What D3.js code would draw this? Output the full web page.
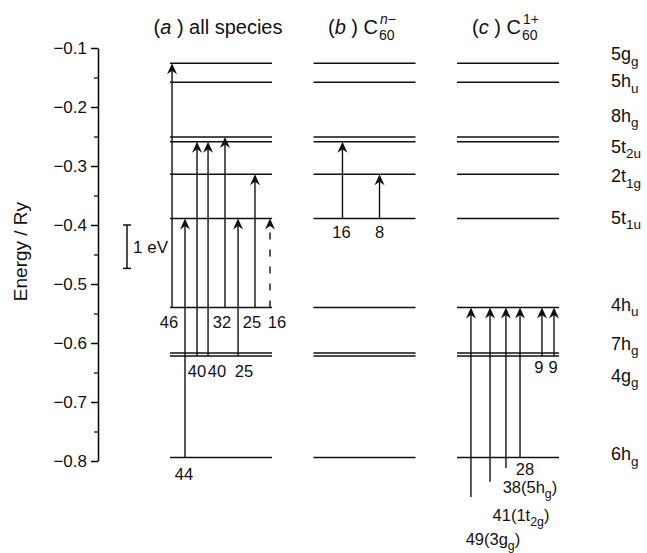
<!DOCTYPE html>
<html>
<head>
<meta charset="utf-8">
<script src="https://cdn.jsdelivr.net/npm/d3@7"></script>
<style>
  body { margin: 0; background: #fff; }
  svg text { font-family: "Liberation Sans", Arial, sans-serif; fill: #111; }
</style>
</head>
<body>
<div id="chart"></div>
<script>
// Energy levels (Ry), top to bottom; "_{..}" marks a subscript
const levelNames = ["5g_{g}", "5h_{u}", "8h_{g}", "5t_{2u}", "2t_{1g}", "5t_{1u}", "4h_{u}", "7h_{g}", "4g_{g}", "6h_{g}"];
const levelEnergies = [-0.126, -0.158, -0.251, -0.259, -0.314, -0.389, -0.540, -0.617, -0.622, -0.794];

// deeper levels, only used as starting points of arrows in (c)
const deepNames = ["3g_{g}", "1t_{2g}", "5h_{g}"];
const deepEnergies = [-0.861, -0.835, -0.812];

const panelIds = ["a", "b", "c"];
const yTicks = [-0.1, -0.2, -0.3, -0.4, -0.5, -0.6, -0.7, -0.8];
const yMinorTicks = [-0.15, -0.25, -0.35, -0.45, -0.55, -0.65, -0.75];
const eVinRy = 0.0735;

// Transitions (arrows)
const transPanel = ["a", "a", "a", "a", "a", "a", "a", "a", "b", "b", "c", "c", "c", "c", "c", "c"];
const transFrom  = ["4h_{u}", "6h_{g}", "4g_{g}", "4g_{g}", "4h_{u}", "4g_{g}", "4h_{u}", "4h_{u}",
                    "5t_{1u}", "5t_{1u}",
                    "3g_{g}", "1t_{2g}", "5h_{g}", "6h_{g}", "4g_{g}", "4g_{g}"];
const transTo    = ["5g_{g}", "5t_{1u}", "5t_{2u}", "5t_{2u}", "8h_{g}", "5t_{1u}", "2t_{1g}", "5t_{1u}",
                    "5t_{2u}", "2t_{1g}",
                    "4h_{u}", "4h_{u}", "4h_{u}", "4h_{u}", "4h_{u}", "4h_{u}"];
const transLabel = ["46", "44", "40", "40", "32", "25", "25", "16",
                    "16", "8",
                    "49(3g_{g})", "41(1t_{2g})", "38(5h_{g})", "28", "9", "9"];
const transDashed = [false, false, false, false, false, false, false, true,
                     false, false, false, false, false, false, false, false];

// layout only: arrow slot inside its panel (0..1) and label offsets (px)
const slotFrac = [0.02, 0.147, 0.265, 0.373, 0.539, 0.667, 0.833, 0.98,
                  0.284, 0.647,
                  0.137, 0.324, 0.48, 0.618, 0.833, 0.951];
const labelDx = [-3, -1, 0, 9, -3, 6, -3, 7, -1, 0, 22, 31, 24, 5, -3, -1];
const labelDy = [15, 18, 16, 16, 15, 16, 15, 15, 14, 14, 43, 34, 20, 13, 12, 12];
const levelLabelDy = [-8, 0, -20, 6, 3, 0, -2, -8, 21, -2];

const width = 647, height = 553;

const svg = d3.select("#chart")
  .append("svg")
    .attr("width", width)
    .attr("height", height);

const y = d3.scaleLinear().domain([-0.1, -0.8]).range([48, 461]);
const xPanel = d3.scaleBand().domain(panelIds).range([170, 559]).paddingInner(0.289);
const xSlot = d3.scaleLinear().domain([0, 1]).range([0, xPanel.bandwidth()]);

const energyOf = {};
levelNames.forEach((n, i) => energyOf[n] = levelEnergies[i]);
deepNames.forEach((n, i) => energyOf[n] = deepEnergies[i]);

// write a string with _{..} subscripts into a text element
function richText(sel, str, size) {
  const parts = str.split(/_\{([^}]*)\}/);
  let shifted = false;
  parts.forEach((p, i) => {
    if (p === "") return;
    const sub = i % 2 === 1;
    const t = sel.append("tspan").text(p);
    if (sub) {
      t.attr("font-size", size * 0.75).attr("dy", size * 0.3);
      shifted = true;
    } else {
      t.attr("font-size", size);
      if (shifted) { t.attr("dy", -size * 0.3); shifted = false; }
    }
  });
}

// Y axis
const yAxis = svg.append("g")
  .attr("transform", "translate(98,0)")
  .call(d3.axisLeft(y).tickValues(yTicks).tickSize(7).tickSizeOuter(0).tickPadding(4)
    .tickFormat(d3.format(".1f")));
yAxis.selectAll("text").attr("font-size", 17).attr("font-family", null);
yAxis.select(".domain").attr("stroke-width", 1.5);
yAxis.selectAll(".tick line").attr("stroke-width", 1.5);

svg.append("g")
  .attr("transform", "translate(98,0)")
  .call(d3.axisLeft(y).tickValues(yMinorTicks).tickSize(4).tickFormat(""))
  .call(g => g.select(".domain").remove())
  .selectAll("line").attr("stroke-width", 1.2);

svg.append("text")
  .attr("transform", `translate(27,${y(-0.445)}) rotate(-90)`)
  .attr("text-anchor", "middle")
  .attr("font-size", 19)
  .text("Energy / Ry");

// 1 eV scale bar
const eV = svg.append("g").attr("stroke", "#111").attr("stroke-width", 1.5);
eV.append("line").attr("x1", 127).attr("x2", 127).attr("y1", y(-0.4)).attr("y2", y(-0.4 - eVinRy));
eV.append("line").attr("x1", 123).attr("x2", 131).attr("y1", y(-0.4)).attr("y2", y(-0.4));
eV.append("line").attr("x1", 123).attr("x2", 131).attr("y1", y(-0.4 - eVinRy)).attr("y2", y(-0.4 - eVinRy));
svg.append("text")
  .attr("x", 133).attr("y", y(-0.4 - eVinRy / 2) + 6)
  .attr("font-size", 17)
  .text("1 eV");

// Panel titles
function title(id, main, sup) {
  const x0 = xPanel(id);
  const t = svg.append("text").attr("y", 34).attr("font-size", 20);
  t.append("tspan").text("(");
  t.append("tspan").attr("font-style", "italic").text(id);
  t.append("tspan").text(" ) " + main);
  const cx = x0 + xPanel.bandwidth() / 2 - 3;
  const w = t.node().getComputedTextLength() + (sup ? 17 : 0);
  t.attr("x", cx - w / 2);
  if (sup) {
    const right = cx - w / 2 + t.node().getComputedTextLength() + 1;
    svg.append("text").attr("x", right).attr("y", 40).attr("font-size", 14).text("60");
    const s = svg.append("text").attr("x", right + 1).attr("y", 24).attr("font-size", 14);
    sup.forEach(([txt, it]) => s.append("tspan").attr("font-style", it ? "italic" : null).text(txt));
  }
}
title("a", "all species", null);
title("b", "C", [["n", true], ["−", false]]);
title("c", "C", [["1+", false]]);

// Level lines in each panel
panelIds.forEach(id => {
  svg.append("g")
    .selectAll("line")
    .data(levelEnergies)
    .join("line")
      .attr("x1", xPanel(id))
      .attr("x2", xPanel(id) + xPanel.bandwidth())
      .attr("y1", d => y(d))
      .attr("y2", d => y(d))
      .attr("stroke", "#111")
      .attr("stroke-width", 1.5);
});

// Level labels on the right
const lab = svg.append("g")
  .selectAll("text")
  .data(levelNames)
  .join("text")
    .attr("x", 611)
    .attr("y", (d, i) => y(levelEnergies[i]) + levelLabelDy[i] + 5);
lab.each(function(d) { richText(d3.select(this), d, 18); });

// Arrows
const trans = transFrom.map((f, i) => ({
  x: xPanel(transPanel[i]) + xSlot(slotFrac[i]),
  y0: y(energyOf[f]),
  y1: y(energyOf[transTo[i]]),
  label: transLabel[i],
  dashed: transDashed[i],
  dx: labelDx[i],
  dy: labelDy[i]
}));

const arrows = svg.append("g").selectAll("g").data(trans).join("g");
arrows.append("line")
  .attr("x1", d => d.x).attr("x2", d => d.x)
  .attr("y1", d => d.y0).attr("y2", d => d.y1 + 4)
  .attr("stroke", "#111")
  .attr("stroke-width", 1.4)
  .attr("stroke-dasharray", d => d.dashed ? "7,10" : null);
arrows.append("path")
  .attr("d", "M0,0 L-5,11 L0,7.5 L5,11 Z")
  .attr("transform", d => `translate(${d.x},${d.y1})`)
  .attr("fill", "#111");
arrows.append("text")
  .attr("x", d => d.x + d.dx)
  .attr("y", d => d.y0 + d.dy + 5)
  .attr("text-anchor", "middle")
  .each(function(d) { richText(d3.select(this), d.label, 16.5); });
</script>
</body>
</html>
